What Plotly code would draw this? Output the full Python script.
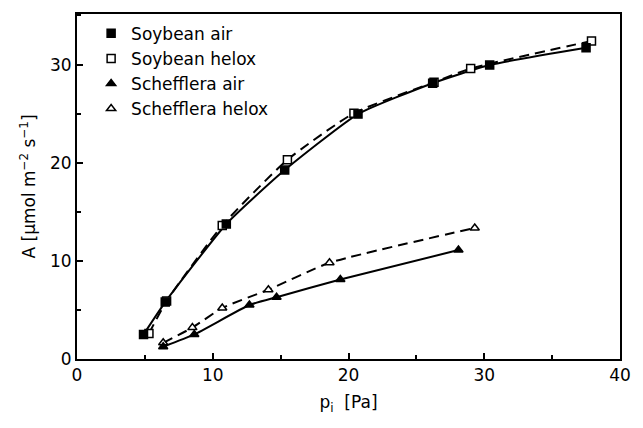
import plotly.graph_objects as go

soy_air_x = [4.9, 6.5, 11.0, 15.3, 20.7, 26.2, 30.4, 37.5]
soy_air_y = [2.5, 5.8, 13.75, 19.25, 24.95, 28.1, 29.95, 31.7]
soy_helox_x = [5.3, 6.6, 10.7, 15.5, 20.4, 26.3, 29.0, 37.9]
soy_helox_y = [2.6, 5.9, 13.6, 20.3, 25.05, 28.2, 29.6, 32.4]
sch_air_x = [6.35, 8.64, 12.7, 14.7, 19.4, 28.1]
sch_air_y = [1.25, 2.5, 5.5, 6.3, 8.1, 11.1]
sch_helox_x = [6.35, 8.5, 10.7, 14.1, 18.6, 29.3]
sch_helox_y = [1.65, 3.2, 5.2, 7.06, 9.8, 13.35]

FONT = "DejaVu Sans"
fig = go.Figure()

DASH = "10px,6px"
series = [
    ("Soybean air", soy_air_x, soy_air_y, "solid", "square", "black", 8, 1),
    ("Soybean helox", soy_helox_x, soy_helox_y, DASH, "square", "white", 8, 2),
    ("Schefflera air", sch_air_x, sch_air_y, "solid", "triangle-up", "black", 8, 3),
    ("Schefflera helox", sch_helox_x, sch_helox_y, DASH, "triangle-up", "white", 8, 4),
]

for name, xs, ys, dash, sym, fill, size, rank in series:
    fig.add_trace(go.Scatter(x=xs, y=ys, mode="lines", showlegend=False,
                             line=dict(color="black", width=2, dash=dash,
                                       shape="spline", smoothing=0.5),
                             hoverinfo="skip"))

# helox (open) markers first so filled air markers sit on top
for idx in [1, 3, 0, 2]:
    name, xs, ys, dash, sym, fill, size, rank = series[idx]
    fig.add_trace(go.Scatter(x=xs, y=ys, mode="markers", name=name, legendrank=rank,
                             marker=dict(symbol=sym, size=size, color=fill,
                                         line=dict(color="black", width=1.5))))

axis_common = dict(showline=True, linecolor="black", linewidth=2, mirror=True,
                   ticks="inside", ticklen=6, tickwidth=1.5, tickcolor="black",
                   showgrid=False, zeroline=False,
                   tickfont=dict(family=FONT, size=17, color="black"))

fig.update_xaxes(range=[0, 40], dtick=10, tick0=0,
                 minor=dict(ticks="inside", dtick=5, ticklen=4, tickcolor="black"),
                 title=dict(text="p<sub>i</sub>  [Pa]", font=dict(family=FONT, size=17, color="black"),
                            standoff=12),
                 **axis_common)
fig.update_yaxes(range=[0, 35.15], dtick=10, tick0=0,
                 minor=dict(ticks="inside", dtick=5, ticklen=4, tickcolor="black"),
                 title=dict(text="A [µmol m<sup>−2</sup> s<sup>−1</sup>]",
                            font=dict(family=FONT, size=17, color="black"), standoff=10),
                 **axis_common)

fig.update_layout(
    width=643, height=428,
    margin=dict(l=77, r=12, t=12, b=69),
    plot_bgcolor="white", paper_bgcolor="white",
    font=dict(family=FONT, size=17, color="black"),
    legend=dict(x=0.026, y=0.995, xanchor="left", yanchor="top",
                bgcolor="rgba(0,0,0,0)", font=dict(family=FONT, size=17),
                tracegroupgap=0, itemwidth=30),
)

fig.write_html("out.html")
